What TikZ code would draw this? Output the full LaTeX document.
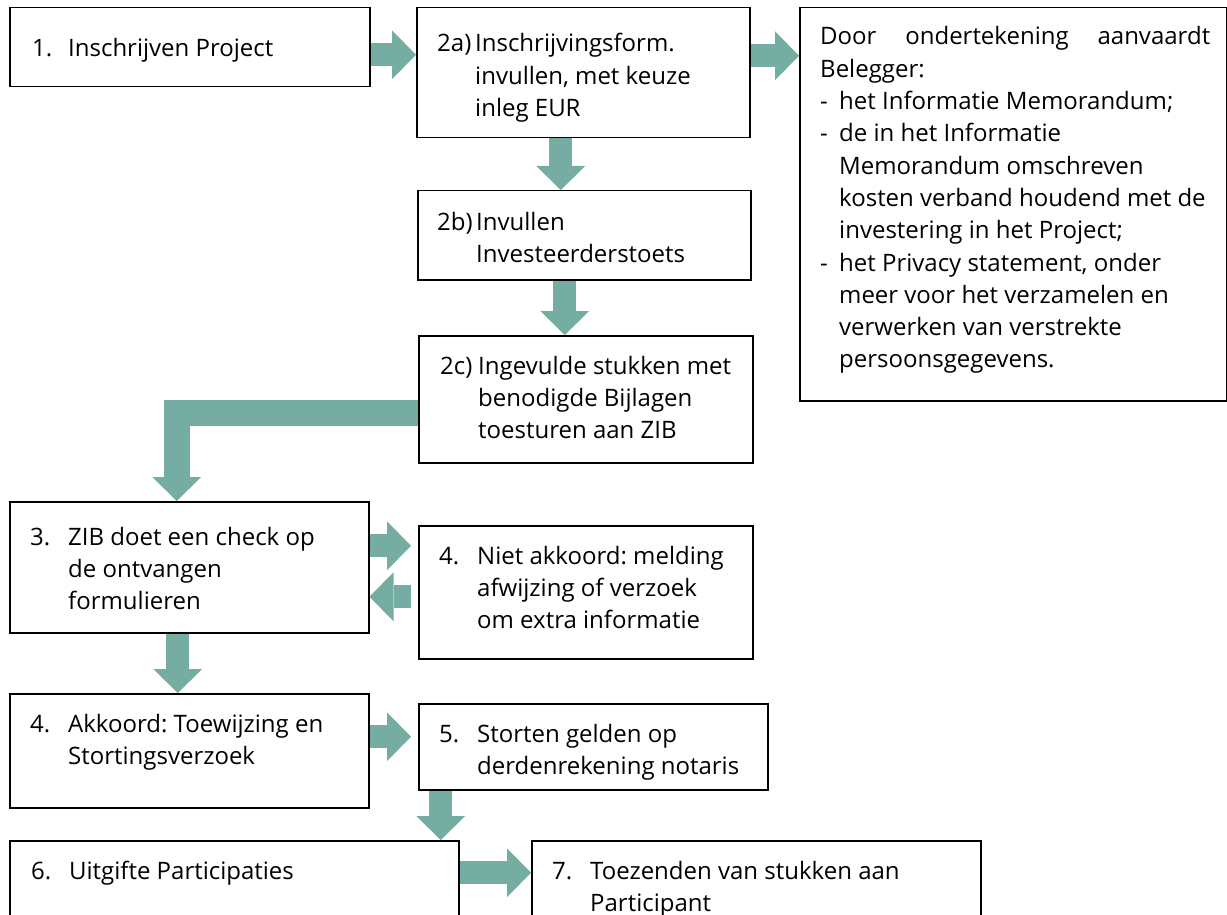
\documentclass[tikz,border=0pt]{standalone}
\usepackage{fontspec}
\setmainfont{Open Sans}
\usetikzlibrary{arrows.meta}
\definecolor{flowteal}{RGB}{117,173,162}
\frenchspacing

\begin{document}
\begin{tikzpicture}[x=1pt, y=1pt,
  box/.style = {draw, line width=1.5pt, anchor=north west, inner sep=0pt},
  txt/.style = {anchor=base west, inner sep=0pt, font=\fontsize{24}{32.3}\selectfont},
  flow/.style = {draw=flowteal, line width=23pt,
    -{Triangle[width=49pt, length=24pt, line width=0pt]}}]
\useasboundingbox (0,0) rectangle (1227,-915);

% boxes
\node[box, minimum width=360pt, minimum height=79pt] (b1) at (9,-7) {};
\node[box, minimum width=333pt, minimum height=130pt] (b2a) at (416,-7) {};
\node[box, minimum width=427pt, minimum height=393pt] (bR) at (799,-7) {};
\node[box, minimum width=333pt, minimum height=89pt] (b2b) at (417,-190) {};
\node[box, minimum width=334pt, minimum height=127pt] (b2c) at (418,-335) {};
\node[box, minimum width=359pt, minimum height=131pt] (b3) at (9,-501) {};
\node[box, minimum width=334pt, minimum height=133pt] (b4n) at (418,-525) {};
\node[box, minimum width=359pt, minimum height=114pt] (b4) at (9,-693) {};
\node[box, minimum width=349pt, minimum height=86pt] (b5) at (418,-703) {};
\node[box, minimum width=449pt, minimum height=130pt] (b6) at (9,-840) {};
\node[box, minimum width=449pt, minimum height=130pt] (b7) at (531,-840) {};

% texts
\node[txt] at ([shift={(23,-50)}]b1.north west)
  {\begin{tabular}[t]{@{}p{36pt}@{}l@{}}1. & Inschrijven Project\end{tabular}};
\node[txt] at ([shift={(21,-45)}]b2a.north west)
  {\begin{tabular}[t]{@{}p{38pt}@{}l@{}}2a) & Inschrijvingsform.\\ & invullen, met keuze\\ & inleg EUR\end{tabular}};
\node[txt] at ([shift={(21,-38)}]bR.north west)
  {\begin{tabular}[t]{@{}p{19pt}@{}l@{}}
   \multicolumn{2}{@{}l@{}}{\makebox[390pt][s]{Door ondertekening aanvaardt}}\\
   \multicolumn{2}{@{}l@{}}{Belegger:}\\
   - & het Informatie Memorandum;\\
   - & de in het Informatie\\
     & Memorandum omschreven\\
     & kosten verband houdend met de\\
     & investering in het Project;\\
   - & het Privacy statement, onder\\
     & meer voor het verzamelen en\\
     & verwerken van verstrekte\\
     & persoonsgegevens.\end{tabular}};
\node[txt] at ([shift={(20,-40)}]b2b.north west)
  {\begin{tabular}[t]{@{}p{39pt}@{}l@{}}2b) & Invullen\\ & Investeerderstoets\end{tabular}};
\node[txt] at ([shift={(22,-39)}]b2c.north west)
  {\begin{tabular}[t]{@{}p{38pt}@{}l@{}}2c) & Ingevulde stukken met\\ & benodigde Bijlagen\\ & toesturen aan ZIB\end{tabular}};
\node[txt] at ([shift={(21,-44)}]b3.north west)
  {\begin{tabular}[t]{@{}p{38pt}@{}l@{}}3. & ZIB doet een check op\\ & de ontvangen\\ & formulieren\end{tabular}};
\node[txt] at ([shift={(21,-39)}]b4n.north west)
  {\begin{tabular}[t]{@{}p{38pt}@{}l@{}}4. & Niet akkoord: melding\\ & afwijzing of verzoek\\ & om extra informatie\end{tabular}};
\node[txt] at ([shift={(21,-39)}]b4.north west)
  {\begin{tabular}[t]{@{}p{38pt}@{}l@{}}4. & Akkoord: Toewijzing en\\ & Stortingsverzoek\end{tabular}};
\node[txt] at ([shift={(21,-39)}]b5.north west)
  {\begin{tabular}[t]{@{}p{38pt}@{}l@{}}5. & Storten gelden op\\ & derdenrekening notaris\end{tabular}};
\node[txt] at ([shift={(22,-39)}]b6.north west)
  {\begin{tabular}[t]{@{}p{38pt}@{}l@{}}6. & Uitgifte Participaties\end{tabular}};
\node[txt] at ([shift={(21,-39)}]b7.north west)
  {\begin{tabular}[t]{@{}p{38pt}@{}l@{}}7. & Toezenden van stukken aan\\ & Participant\end{tabular}};

% arrows
\draw[flow] ([yshift=-7.5pt]b1.east) -- ([yshift=-7.5pt]b1.east -| b2a.west);
\draw[flow] ([yshift=17pt]b2a.east) -- ([yshift=17pt]b2a.east -| bR.west);
\draw[flow] ([xshift=-22.5pt]b2a.south) -- ([xshift=-22.5pt]b2a.south |- b2b.north);
\draw[flow] ([xshift=-19.5pt]b2b.south) -- ([xshift=-19.5pt]b2b.south |- b2c.north);
\draw[flow, line width=26pt] ([yshift=-13.5pt]b2c.west) -| ([xshift=-12.5pt]b3.north);
\draw[flow, shorten >=7pt] ([yshift=21.5pt]b3.east) -- ([yshift=21.5pt]b3.east -| b4n.west);
\draw[flow, shorten <=7pt] ([yshift=-4.5pt]b4n.west) -- ([yshift=-4.5pt]b4n.west -| b3.east);
\draw[flow] ([xshift=-11.5pt]b3.south) -- ([xshift=-11.5pt]b3.south |- b4.north);
\draw[flow, shorten >=7pt] ([yshift=14pt]b4.east) -- ([yshift=14pt]b4.east -| b5.west);
\draw[flow] ([xshift=-152.5pt]b5.south) -- ([xshift=-152.5pt]b5.south |- b6.north);
\draw[flow] ([yshift=33pt]b6.east) -- ([yshift=33pt]b6.east -| b7.west);
\end{tikzpicture}
\end{document}
